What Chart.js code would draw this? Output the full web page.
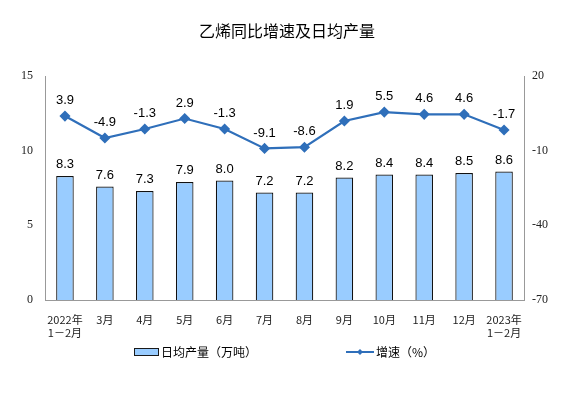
<!DOCTYPE html>
<html>
<head>
<meta charset="utf-8">
<script src="https://cdn.jsdelivr.net/npm/chart.js@4"></script>
<style>
  html, body { margin: 0; padding: 0; background: #fff; }
  #wrap { width: 574px; height: 394px; position: relative; }
</style>
</head>
<body>
<div id="wrap"><canvas id="c"></canvas></div>
<script>
// data
const categories = [['2022年', '1－2月'], '3月', '4月', '5月', '6月', '7月', '8月', '9月', '10月', '11月', '12月', ['2023年', '1－2月']];
const dailyOutput = [8.3, 7.6, 7.3, 7.9, 8.0, 7.2, 7.2, 8.2, 8.4, 8.4, 8.5, 8.6];
const growthRate = [3.9, -4.9, -1.3, 2.9, -1.3, -9.1, -8.6, 1.9, 5.5, 4.6, 4.6, -1.7];
const leftTicks = [0, 5, 10, 15];
const rightTicks = [-70, -40, -10, 20];

const lineColor = '#2f6fba';
const cjk = '"Noto Sans CJK SC", "Noto Sans", sans-serif';

const labelsPlugin = {
  id: 'labels',
  afterDatasetsDraw(chart) {
    const ctx = chart.ctx;
    ctx.save();
    ctx.font = '13px "Liberation Sans", Arial, sans-serif';
    ctx.fillStyle = '#000';
    ctx.textAlign = 'center';
    ctx.textBaseline = 'bottom';
    chart.getDatasetMeta(0).data.forEach((el, i) => {
      ctx.fillText(dailyOutput[i].toFixed(1), el.x, el.y - 5);
    });
    chart.getDatasetMeta(1).data.forEach((el, i) => {
      ctx.fillText(growthRate[i].toFixed(1), el.x, el.y - 9);
    });

    // title
    ctx.font = '16px ' + cjk;
    ctx.textBaseline = 'middle';
    ctx.fillText('乙烯同比增速及日均产量', 287, 31);

    // legend
    const ly = 352;
    ctx.fillStyle = '#99ccff';
    ctx.strokeStyle = '#1a1a1a';
    ctx.lineWidth = 1;
    ctx.fillRect(134.5, ly - 3.5, 24, 7);
    ctx.strokeRect(134.5, ly - 3.5, 24, 7);
    ctx.fillStyle = '#000';
    ctx.font = '12px ' + cjk;
    ctx.textAlign = 'left';
    ctx.fillText('日均产量（万吨）', 161, ly);

    ctx.strokeStyle = lineColor;
    ctx.lineWidth = 2;
    ctx.beginPath();
    ctx.moveTo(346, ly);
    ctx.lineTo(374, ly);
    ctx.stroke();
    ctx.fillStyle = lineColor;
    ctx.beginPath();
    ctx.moveTo(360, ly - 3);
    ctx.lineTo(363, ly);
    ctx.lineTo(360, ly + 3);
    ctx.lineTo(357, ly);
    ctx.closePath();
    ctx.fill();
    ctx.fillStyle = '#000';
    ctx.fillText('增速（%）', 376, ly);
    ctx.restore();
  }
};

new Chart(document.getElementById('c'), {
  data: {
    labels: categories,
    datasets: [
      {
        type: 'bar',
        label: '日均产量（万吨）',
        data: dailyOutput,
        yAxisID: 'y',
        backgroundColor: '#99ccff',
        borderColor: '#111',
        borderWidth: 1.2,
        barPercentage: 0.44,
        categoryPercentage: 1.0,
        order: 2
      },
      {
        type: 'line',
        label: '增速（%）',
        data: growthRate,
        yAxisID: 'y1',
        borderColor: lineColor,
        backgroundColor: lineColor,
        borderWidth: 2.2,
        pointStyle: 'rectRot',
        pointRadius: 4,
        tension: 0,
        order: 1
      }
    ]
  },
  options: {
    responsive: true,
    maintainAspectRatio: false,
    animation: false,
    layout: { padding: { top: 76, bottom: 42, left: 0, right: 0 } },
    plugins: { legend: { display: false }, tooltip: { enabled: false } },
    scales: {
      x: {
        grid: { display: false, drawTicks: true, tickLength: 4, color: '#bbb' },
        border: { color: '#999' },
        ticks: { color: '#222', font: { size: 11, family: cjk }, maxRotation: 0, autoSkip: false, padding: 9 },
        afterFit(s) { s.height = 52; }
      },
      y: {
        position: 'left',
        min: 0, max: 15,
        afterBuildTicks(s) { s.ticks = leftTicks.map(v => ({ value: v })); },
        grid: { display: false, drawTicks: true, tickLength: 4 },
        border: { color: '#999' },
        ticks: { color: '#222', font: { size: 12, family: '"Liberation Serif", "Times New Roman", serif' }, padding: 8 },
        afterFit(s) { s.width = 45; }
      },
      y1: {
        position: 'right',
        min: -70, max: 20,
        afterBuildTicks(s) { s.ticks = rightTicks.map(v => ({ value: v })); },
        grid: { display: false, drawTicks: true, tickLength: 4 },
        border: { color: '#999' },
        ticks: { color: '#222', font: { size: 12, family: '"Liberation Serif", "Times New Roman", serif' }, padding: 4 },
        afterFit(s) { s.width = 50; }
      }
    }
  },
  plugins: [labelsPlugin]
});
</script>
</body>
</html>
